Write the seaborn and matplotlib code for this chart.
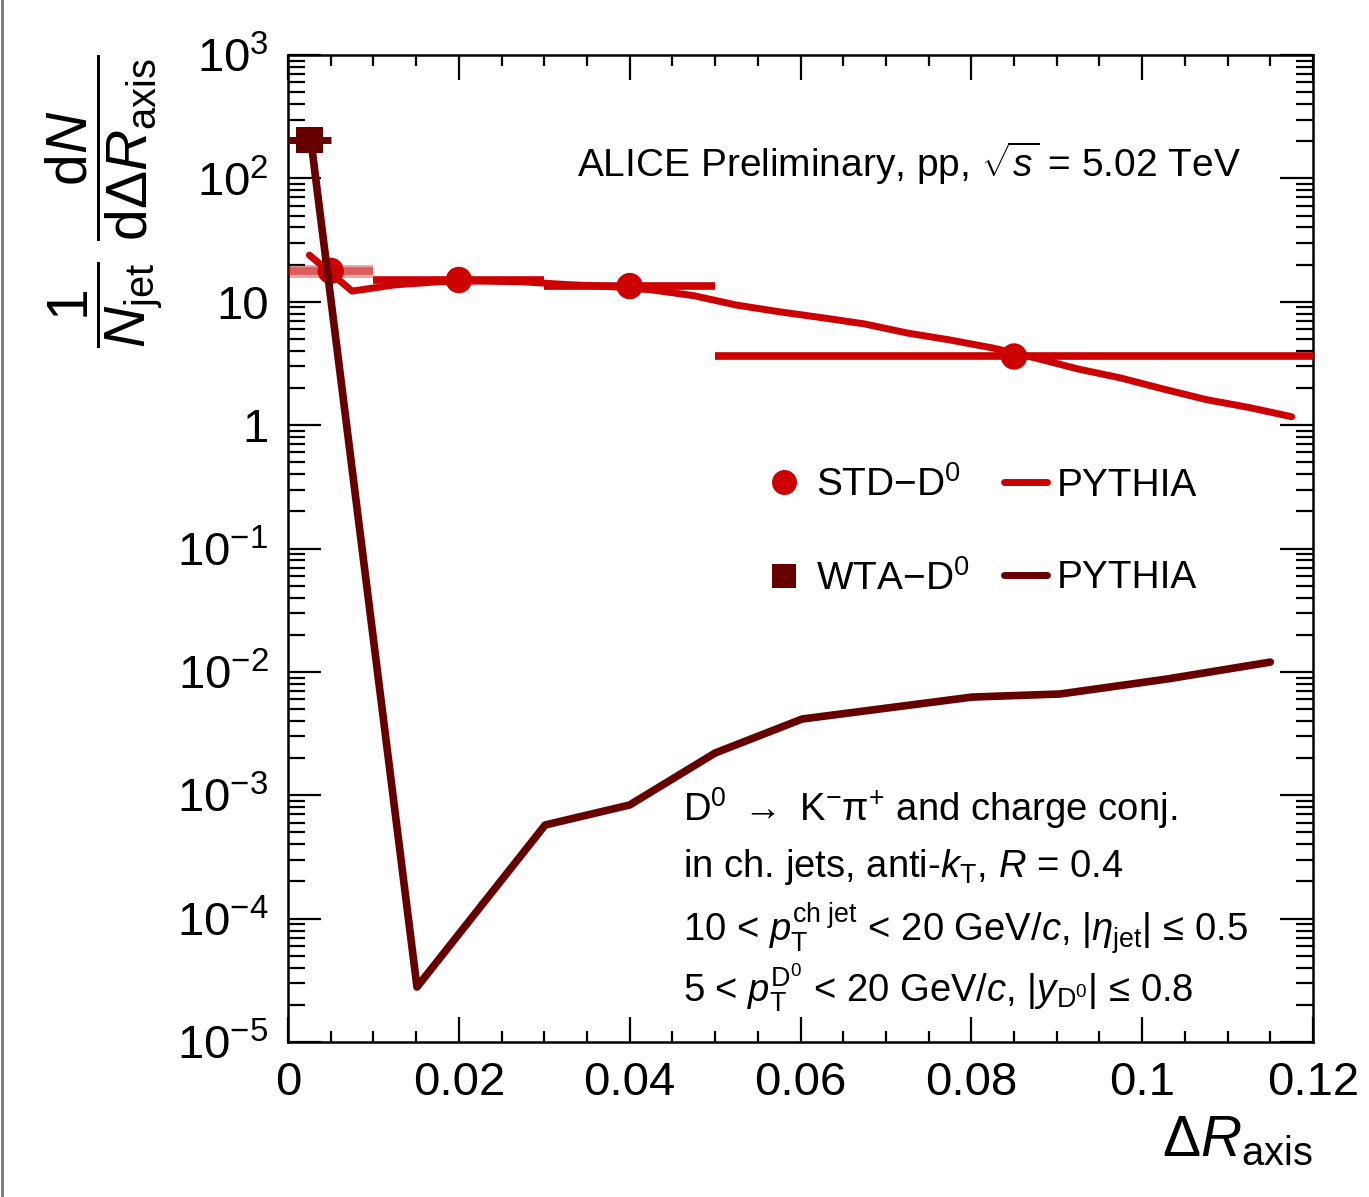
import numpy as np
import pandas as pd
import matplotlib
matplotlib.use("Agg")
import matplotlib.pyplot as plt
import seaborn as sns
from matplotlib.lines import Line2D
from matplotlib.ticker import FixedLocator, MultipleLocator, LogLocator, NullFormatter

# ---------------- data ----------------
std_x = [0.005, 0.02, 0.04, 0.085]
std_xlo = [0.0, 0.01, 0.03, 0.05]
std_xhi = [0.01, 0.03, 0.05, 0.12]
std_y = [17.8, 15.0, 13.4, 3.6]
std_syst_rel = [0.12, 0.04, 0.04, 0.05]

wta_x = [0.0025]
wta_xlo = [0.0]
wta_xhi = [0.005]
wta_y = [205.0]

pythia_std_x = [0.0025, 0.0075, 0.0125, 0.0175, 0.0225, 0.0275, 0.0325, 0.0375,
                0.0425, 0.0475, 0.0525, 0.0575, 0.0625, 0.0675, 0.0725, 0.0775,
                0.0825, 0.0875, 0.0925, 0.0975, 0.1025, 0.1075, 0.1125, 0.1175]
pythia_std_y = [23.9, 12.2, 13.7, 14.5, 14.7, 14.5, 13.8, 13.3,
                12.5, 11.2, 9.4, 8.3, 7.43, 6.61, 5.58, 4.90,
                4.22, 3.50, 2.85, 2.41, 1.96, 1.61, 1.39, 1.17]

pythia_wta_x = [0.0027, 0.0151, 0.0301, 0.0400, 0.0500, 0.0602, 0.0801, 0.0904, 0.1029, 0.1150]
pythia_wta_y = [200.0, 2.79e-5, 5.74e-4, 8.34e-4, 2.20e-3, 4.15e-3, 6.25e-3, 6.62e-3, 8.75e-3, 1.20e-2]

x_ticks = [0.0, 0.02, 0.04, 0.06, 0.08, 0.10, 0.12]
x_ticklabels = ["0", "0.02", "0.04", "0.06", "0.08", "0.1", "0.12"]
y_ticks = [1e-5, 1e-4, 1e-3, 1e-2, 1e-1, 1, 10, 1e2, 1e3]
y_ticklabels = [r"$10^{-5}$", r"$10^{-4}$", r"$10^{-3}$", r"$10^{-2}$", r"$10^{-1}$",
                "1", "10", r"$10^{2}$", r"$10^{3}$"]

legend_labels = [r"STD$-$D$^{0}$", r"WTA$-$D$^{0}$", "PYTHIA", "PYTHIA"]

# ---------------- style ----------------
sns.set_theme(style="ticks")
plt.rcParams["font.family"] = ["Liberation Sans", "DejaVu Sans"]
plt.rcParams["mathtext.fontset"] = "custom"
plt.rcParams["mathtext.rm"] = "Liberation Sans"
plt.rcParams["mathtext.it"] = "Liberation Sans:italic"
plt.rcParams["mathtext.bf"] = "Liberation Sans:bold"
plt.rcParams["mathtext.sf"] = "Liberation Sans"
for k in ["text.color", "axes.labelcolor", "xtick.color", "ytick.color",
          "xtick.labelcolor", "ytick.labelcolor", "axes.edgecolor"]:
    plt.rcParams[k] = "black"

RED = "#cc0000"
DARK = "#660000"

fig = plt.figure(figsize=(13.69, 11.97), dpi=100)
ax = fig.add_axes([288 / 1369, 1 - 1042 / 1197, (1313 - 288) / 1369, (1042 - 55) / 1197])

ax.set_yscale("log")
ax.set_xlim(0, 0.12)
ax.set_ylim(1e-5, 1e3)

# systematic boxes
for xl, xh, y, r, in zip(std_xlo, std_xhi, std_y, std_syst_rel):
    ax.fill_between([xl, xh], [y * (1 - r)] * 2, [y * (1 + r)] * 2,
                    color=RED, alpha=0.35, linewidth=0, zorder=2)

# stat x-bars
for i, (xl, xh, y) in enumerate(zip(std_xlo, std_xhi, std_y)):
    a = 0.45 if i == 0 else 1.0
    ax.plot([xl, xh], [y, y], color=RED, alpha=a, lw=5.5, solid_capstyle="butt", zorder=3)

# PYTHIA STD line
df_ps = pd.DataFrame({"x": pythia_std_x, "y": pythia_std_y})
sns.lineplot(data=df_ps, x="x", y="y", ax=ax, color=RED, lw=5.0, sort=False, zorder=4)

# STD markers
df_std = pd.DataFrame({"x": std_x, "y": std_y})
sns.scatterplot(data=df_std, x="x", y="y", ax=ax, color=RED, marker="o", s=19 ** 2,
                edgecolor="none", zorder=5)

# PYTHIA WTA line
df_pw = pd.DataFrame({"x": pythia_wta_x, "y": pythia_wta_y})
sns.lineplot(data=df_pw, x="x", y="y", ax=ax, color=DARK, lw=5.5, sort=False, zorder=6)

# WTA marker + x bar
for xl, xh, y in zip(wta_xlo, wta_xhi, wta_y):
    ax.plot([xl, xh], [y, y], color=DARK, lw=5.0, solid_capstyle="butt", zorder=7)
df_wta = pd.DataFrame({"x": wta_x, "y": wta_y})
sns.scatterplot(data=df_wta, x="x", y="y", ax=ax, color=DARK, marker="s", s=19 ** 2,
                edgecolor="none", zorder=8)

# ---------------- axes ----------------
ax.xaxis.set_major_locator(FixedLocator(x_ticks))
ax.set_xticklabels(x_ticklabels)
ax.xaxis.set_minor_locator(MultipleLocator(0.005))
ax.yaxis.set_major_locator(FixedLocator(y_ticks))
ax.set_yticklabels(y_ticklabels)
ax.yaxis.set_minor_locator(LogLocator(base=10, subs=np.arange(2, 10), numticks=20))
ax.yaxis.set_minor_formatter(NullFormatter())

ax.tick_params(axis="both", which="both", direction="in", top=True, right=True,
               width=1.6, color="black", labelcolor="black")
ax.tick_params(axis="x", which="major", length=18, labelsize=34, pad=14)
ax.tick_params(axis="x", which="minor", length=8)
ax.tick_params(axis="y", which="major", length=24, labelsize=34, pad=14)
ax.tick_params(axis="y", which="minor", length=12)
for s in ax.spines.values():
    s.set_linewidth(1.8)
    s.set_color("black")

ax.set_xlabel(r"$\Delta R_{\rm axis}$", fontsize=41, loc="right", color="black")
ax.xaxis.set_label_coords(1.0, -0.073)
ax.set_ylabel(r"$\dfrac{1}{N_{\rm jet}}\ \dfrac{{\rm d}N}{{\rm d}\Delta R_{\rm axis}}$",
              fontsize=41, loc="top", color="black")
ax.yaxis.set_label_coords(-0.12, 1.0)

# ---------------- texts ----------------
ax.text(0.282, 0.8906, r"ALICE Preliminary, pp, $\sqrt{s}$ = 5.02 TeV",
        transform=ax.transAxes, fontsize=28, va="center", ha="left", color="black")

tx = (683 - 288) / 1025
lines = [
    (808, r"D$^{0}$ $\rightarrow$ K$^{-}$π$^{+}$ and charge conj."),
    (867, r"in ch. jets, anti-$k_{\rm T}$, $R$ = 0.4"),
    (928, r"10 < $p_{\rm T}^{\rm ch\ jet}$ < 20 GeV/$c$, |$\eta_{\rm jet}$| ≤ 0.5"),
    (988, r"5 < $p_{\rm T}^{\rm D^{0}}$ < 20 GeV/$c$, |$y_{\rm D^{0}}$| ≤ 0.8"),
]
for py, t in lines:
    ax.text(tx, 1 - (py - 55) / 987, t, transform=ax.transAxes, fontsize=27.5,
            va="center", ha="left", color="black")

# ---------------- legend ----------------
handles = [
    Line2D([], [], color=RED, marker="o", ls="none", markersize=18, markeredgewidth=0),
    Line2D([], [], color=DARK, marker="s", ls="none", markersize=17, markeredgewidth=0),
    Line2D([], [], color=RED, lw=5),
    Line2D([], [], color=DARK, lw=5),
]
leg = ax.legend(handles, legend_labels, ncol=2, loc="upper left",
                bbox_to_anchor=((763 - 288) / 1025, 1 - (466 - 55) / 987),
                frameon=False, fontsize=28, handlelength=1.1, handletextpad=0.25,
                columnspacing=0.9, labelspacing=1.45, borderpad=0, borderaxespad=0)
for t in leg.get_texts():
    t.set_color("black")

fig.add_artist(Line2D([0.0015, 0.0015], [0, 1], transform=fig.transFigure,
                      color="#777777", lw=2))

fig.savefig("out.png", dpi=100)
